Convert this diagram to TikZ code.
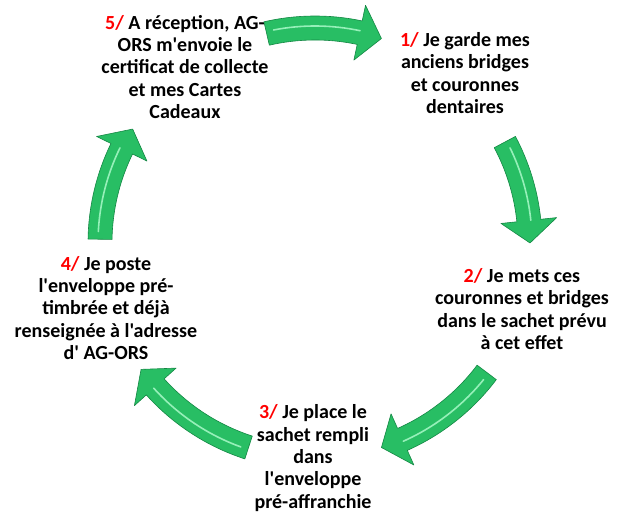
\documentclass[tikz,border=0pt]{standalone}
\usepackage{fontspec}
\usepackage{tikz}

\newfontfamily\cyclefont{Carlito}
\definecolor{vertfleche}{RGB}{40,190,100}
\definecolor{vertfonce}{RGB}{20,135,68}
\definecolor{vertclair}{RGB}{150,240,185}

\tikzset{
  etape/.style={align=center, inner sep=0pt,
    font=\cyclefont\bfseries\fontsize{20}{22.3}\selectfont},
  fleche/.style={fill=vertfleche, draw=vertfonce, line width=0.6pt, line join=round},
  reflet/.style={draw=vertclair, line width=1.6pt, line cap=round},
}
\newcommand{\etnum}[1]{\textcolor{red}{#1}}
% #1 : angle de la queue, #2 : angle de la pointe
\newcommand{\flecheverte}[2]{%
  \pgfmathsetmacro{\fsens}{sign(#1-#2)}
  \pgfmathsetmacro{\fhead}{#2+6*\fsens}
  \pgfmathsetmacro{\fdebut}{#1-2*\fsens}
  \path[fleche] (#1:227) arc[start angle=#1, end angle=\fhead, radius=227]
    -- (\fhead:243) -- (#2:215) -- (\fhead:187)
    -- (\fhead:203) arc[start angle=\fhead, end angle=#1, radius=203] -- cycle;
  \draw[reflet] (\fdebut:217) arc[start angle=\fdebut, end angle=\fhead, radius=217];
}

\begin{document}
\begin{tikzpicture}[x=1pt, y=1pt]
    \useasboundingbox (0,0) rectangle (624,525);
    \coordinate (centre) at (315,282);

    % étapes
    \node[etape] (etape1) at (465,452)
        {\etnum{1/} Je garde mes\\anciens bridges\\et couronnes\\dentaires};
    \node[etape] (etape2) at (522,216)
        {\etnum{2/} Je mets ces\\couronnes et bridges\\dans le sachet prévu\\à cet effet};
    \node[etape] (etape3) at (313,67)
        {\etnum{3/} Je place le\\sachet rempli\\dans\\l'enveloppe\\pré-affranchie};
    \node[etape] (etape4) at (106,217)
        {\etnum{4/} Je poste\\l'enveloppe pré-\\timbrée et déjà\\renseignée à l'adresse\\d' AG-ORS};
    \node[etape] (etape5) at (185,458)
        {\etnum{5/} A réception, AG-\\ORS m'envoie le\\certificat de collecte\\et mes Cartes\\Cadeaux};

    % flèches du cycle
    \begin{scope}[shift={(centre)}]
        \flecheverte{103}{72}
        \flecheverte{28}{0}
        \flecheverte{-37}{-72}
        \flecheverte{-108}{-144}
        \flecheverte{179}{148}
    \end{scope}
\end{tikzpicture}
\end{document}
